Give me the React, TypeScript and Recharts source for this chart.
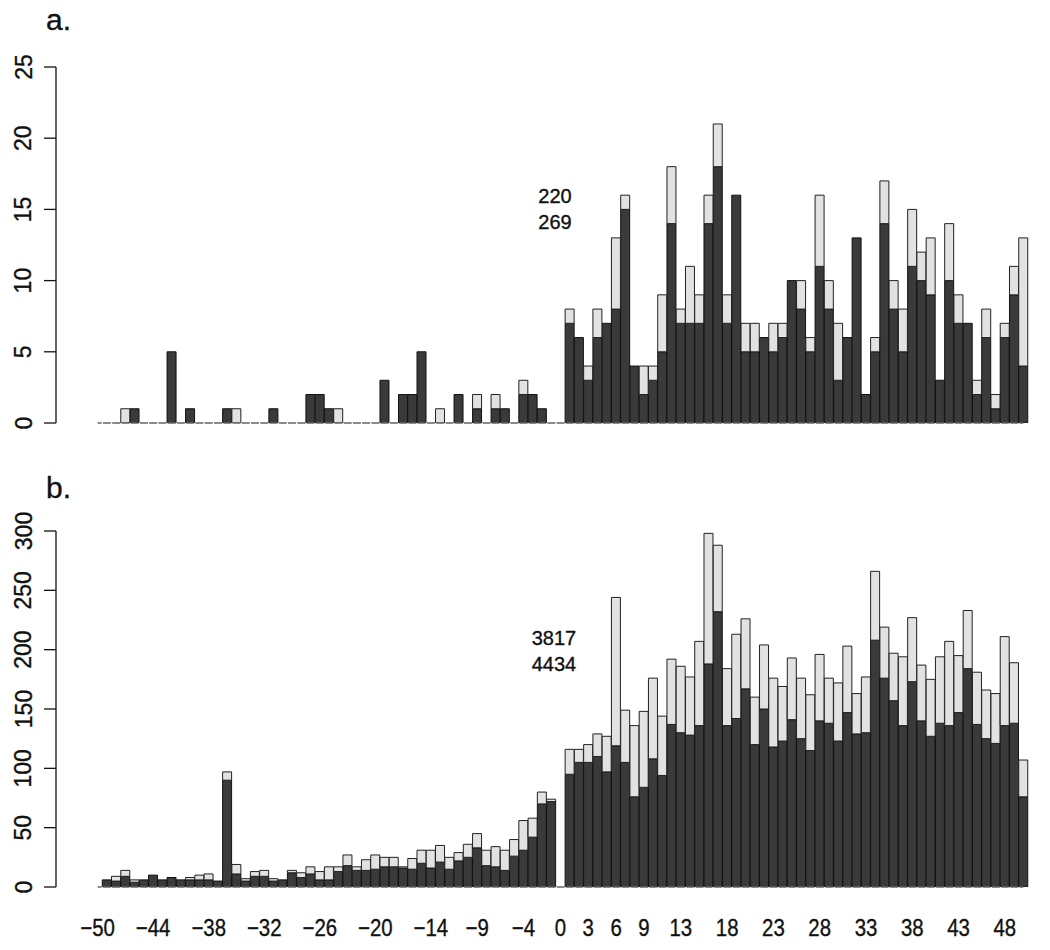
import { BarChart, Bar, XAxis, YAxis, ReferenceLine } from "recharts";

const FONT = "'Liberation Sans', Arial, Helvetica, sans-serif";

// days relative to the event
const days = [
  -50, -49, -48, -47, -46, -45, -44, -43, -42, -41,
  -40, -39, -38, -37, -36, -35, -34, -33, -32, -31,
  -30, -29, -28, -27, -26, -25, -24, -23, -22, -21,
  -20, -19, -18, -17, -16, -15, -14, -13, -12, -11,
  -10, -9, -8, -7, -6, -5, -4, -3, -2, -1,
  0,
  1, 2, 3, 4, 5, 6, 7, 8, 9, 10,
  11, 12, 13, 14, 15, 16, 17, 18, 19, 20,
  21, 22, 23, 24, 25, 26, 27, 28, 29, 30,
  31, 32, 33, 34, 35, 36, 37, 38, 39, 40,
  41, 42, 43, 44, 45, 46, 47, 48, 49, 50,
];

// panel a
const darkA = [
  0, 0, 0, 0, 1, 0, 0, 0, 5, 0,
  1, 0, 0, 0, 1, 0, 0, 0, 0, 1,
  0, 0, 0, 2, 2, 1, 0, 0, 0, 0,
  0, 3, 0, 2, 2, 5, 0, 0, 0, 2,
  0, 1, 0, 1, 1, 0, 2, 2, 1, 0,
  0,
  7, 6, 3, 6, 7, 8, 15, 4, 2, 3,
  5, 14, 7, 7, 7, 14, 18, 7, 16, 5,
  5, 6, 5, 6, 10, 8, 5, 11, 8, 3,
  6, 13, 2, 5, 14, 8, 5, 11, 10, 9,
  3, 10, 7, 7, 2, 6, 1, 6, 9, 4,
];
const lightA = [
  0, 0, 0, 1, 0, 0, 0, 0, 0, 0,
  0, 0, 0, 0, 0, 1, 0, 0, 0, 0,
  0, 0, 0, 0, 0, 0, 1, 0, 0, 0,
  0, 0, 0, 0, 0, 0, 0, 1, 0, 0,
  0, 1, 0, 1, 0, 0, 1, 0, 0, 0,
  0,
  1, 0, 1, 2, 0, 5, 1, 0, 2, 1,
  4, 4, 1, 4, 2, 2, 3, 2, 0, 2,
  2, 0, 2, 1, 0, 2, 1, 5, 2, 4,
  0, 0, 0, 1, 3, 2, 3, 4, 2, 4,
  0, 4, 2, 0, 1, 2, 1, 1, 2, 9,
];

// panel b
const darkB = [
  0, 6, 5, 9, 4, 6, 10, 6, 8, 6,
  6, 6, 6, 5, 90, 11, 5, 9, 9, 5,
  6, 12, 8, 11, 6, 6, 13, 18, 14, 14,
  15, 17, 17, 16, 15, 20, 16, 21, 15, 22,
  25, 33, 18, 17, 14, 26, 31, 42, 70, 72,
  0,
  95, 105, 105, 110, 97, 119, 105, 76, 84, 108,
  94, 137, 130, 128, 136, 188, 232, 136, 142, 167,
  120, 150, 118, 123, 141, 125, 115, 140, 138, 123,
  147, 129, 130, 208, 176, 157, 136, 173, 140, 127,
  138, 136, 147, 184, 137, 125, 121, 136, 138, 76,
];
const lightB = [
  0, 0, 4, 5, 2, 0, 0, 0, 0, 0,
  2, 4, 5, 0, 7, 8, 2, 4, 5, 2,
  0, 2, 4, 6, 7, 11, 4, 9, 3, 9,
  12, 8, 8, 1, 9, 11, 15, 14, 10, 7,
  11, 12, 13, 17, 17, 14, 25, 16, 10, 2,
  0,
  21, 11, 15, 19, 30, 125, 44, 60, 64, 68,
  50, 55, 56, 49, 71, 110, 56, 48, 71, 59,
  40, 54, 58, 46, 52, 51, 47, 56, 38, 49,
  56, 34, 47, 58, 43, 40, 58, 54, 47, 48,
  56, 71, 48, 49, 44, 41, 42, 75, 51, 31,
];

const xLabels = [-50, -44, -38, -32, -26, -20, -14, -9, -4, 0, 3, 6, 9, 13, 18, 23, 28, 33, 38, 43, 48];
const yTicksA = [0, 5, 10, 15, 20, 25];
const yTicksB = [0, 50, 100, 150, 200, 250, 300];

const dataA = days.map((d, i) => ({ day: d, dark: darkA[i], light: lightA[i] }));
const dataB = days.map((d, i) => ({ day: d, dark: darkB[i], light: lightB[i] }));

const ink = { fill: "#111", stroke: "#111", strokeWidth: 0.35 };

const YTick = (props: any) => {
  const { y, payload } = props;
  const bx = 31.5;
  return (
    <text x={bx} y={y} transform={`rotate(-90 ${bx} ${y})`} textAnchor="middle"
      fontSize={23} fontFamily={FONT} {...ink}>
      {payload.value}
    </text>
  );
};

const XTick = (props: any) => {
  const { x, payload } = props;
  const v = Number(payload.value);
  if (!xLabels.includes(v)) return null;
  const label = v < 0 ? "\u2212" + Math.abs(v) : String(v);
  return (
    <g transform={`translate(${x} 486) scale(0.85 1)`}>
      <text x={0} y={0} textAnchor="middle" fontSize={24} fontFamily={FONT} {...ink}>{label}</text>
    </g>
  );
};

const Panel = ({ data, max, ticks, showX, height, marginTop, marginBottom }: any) => (
  <BarChart width={1050} height={height} data={data} barCategoryGap={0} barGap={0}
    margin={{ top: marginTop, right: 22, bottom: marginBottom, left: 0 }}>
    <XAxis dataKey="day" type="category" hide={!showX} interval={0} axisLine={false} tickLine={false}
      tick={<XTick />} height={40} padding={{ left: 37, right: 0 }} />
    <YAxis type="number" domain={[0, max]} ticks={ticks} width={56} interval={0}
      axisLine={{ stroke: "#111", strokeWidth: 1.3 }} tickLine={{ stroke: "#111", strokeWidth: 1.3 }}
      tickSize={12} tick={<YTick />} allowDataOverflow />
    <ReferenceLine segment={[{ x: -50, y: 0 }, { x: 50, y: 0 }]} stroke="#666" strokeWidth={1.5}
      strokeDasharray="8 1.26" strokeDashoffset={4} ifOverflow="visible" />
    <Bar dataKey="dark" stackId="s" fill="#3a3a3a" stroke="#111" strokeWidth={1} isAnimationActive={false} />
    <Bar dataKey="light" stackId="s" fill="#e2e2e2" stroke="#222" strokeWidth={1} isAnimationActive={false} />
  </BarChart>
);

export default function App() {
  return (
    <div style={{ position: "absolute", left: 0, top: 0, width: 1050, height: 950, background: "#fff" }}>
      <div style={{ position: "absolute", left: 0, top: 0 }}>
        <Panel data={dataA} max={25} ticks={yTicksA} showX={false} height={450} marginTop={67} marginBottom={27} />
      </div>
      <div style={{ position: "absolute", left: 0, top: 450 }}>
        <Panel data={dataB} max={300} ticks={yTicksB} showX={true} height={500} marginTop={81} marginBottom={23} />
      </div>
      <svg width={1050} height={950} style={{ position: "absolute", left: 0, top: 0, pointerEvents: "none" }}>
        <text x={46} y={30} fontSize={30} fontFamily={FONT} {...ink}>a.</text>
        <text x={46} y={498} fontSize={30} fontFamily={FONT} {...ink}>b.</text>
        <text x={555} y={203} textAnchor="middle" fontSize={20} fontFamily={FONT} {...ink}>220</text>
        <text x={555} y={229} textAnchor="middle" fontSize={20} fontFamily={FONT} {...ink}>269</text>
        <text x={554} y={645} textAnchor="middle" fontSize={20} fontFamily={FONT} {...ink}>3817</text>
        <text x={554} y={671} textAnchor="middle" fontSize={20} fontFamily={FONT} {...ink}>4434</text>
      </svg>
    </div>
  );
}
